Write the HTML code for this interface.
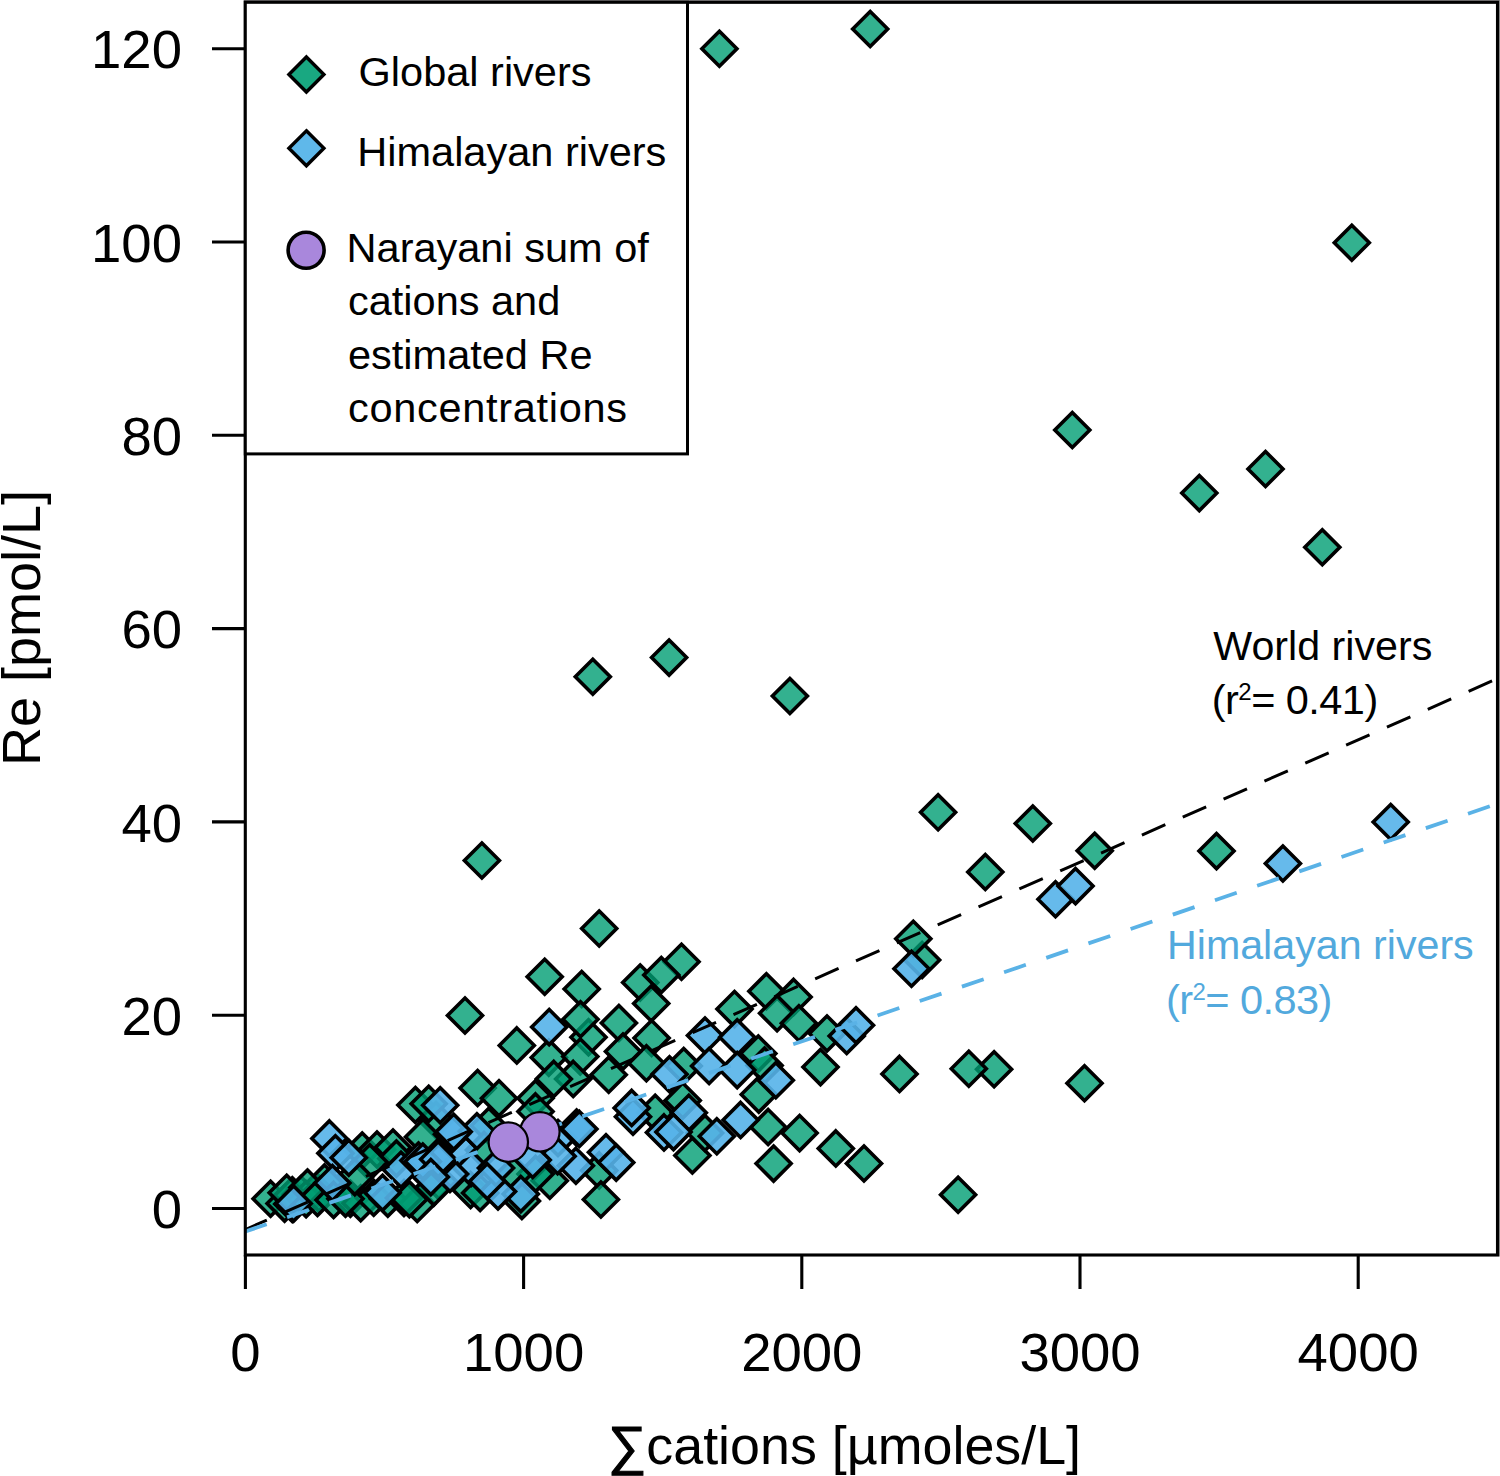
<!DOCTYPE html>
<html lang="en">
<head>
<meta charset="utf-8">
<title>Re vs sum of cations</title>
<style>
html,body{margin:0;padding:0;background:#fff;}
body{width:1500px;height:1476px;overflow:hidden;}
svg{display:block;}
text{font-family:"Liberation Sans",sans-serif;fill:#000;}
.ax{font-size:54.5px;}
.lg{font-size:41.5px;}
.g{fill:#009E73;fill-opacity:.8;stroke:#000;stroke-width:3.6;stroke-linejoin:miter;}
.b{fill:#55B2E9;fill-opacity:.9;stroke:#000;stroke-width:3.6;stroke-linejoin:miter;}
.p{fill:#A987DC;stroke:#000;stroke-width:2.2;}
.fr{fill:none;stroke:#000;stroke-width:3.1;}
</style>
</head>
<body>
<svg width="1500" height="1476" viewBox="0 0 1500 1476">
<rect width="1500" height="1476" fill="#fff"/>

<g id="global">
<path class="g" d="M719.4 31.2L736.9 48.7L719.4 66.2L701.9 48.7Z"/>
<path class="g" d="M870.2 11.5L887.7 29.0L870.2 46.5L852.7 29.0Z"/>
<path class="g" d="M1351.8 225.2L1369.3 242.7L1351.8 260.2L1334.3 242.7Z"/>
<path class="g" d="M1072.3 412.5L1089.8 430.0L1072.3 447.5L1054.8 430.0Z"/>
<path class="g" d="M1199.3 475.6L1216.8 493.1L1199.3 510.6L1181.8 493.1Z"/>
<path class="g" d="M1265.5 451.5L1283.0 469.0L1265.5 486.5L1248.0 469.0Z"/>
<path class="g" d="M1322.3 529.7L1339.8 547.2L1322.3 564.7L1304.8 547.2Z"/>
<path class="g" d="M592.8 659.3L610.3 676.8L592.8 694.3L575.3 676.8Z"/>
<path class="g" d="M669.1 640.1L686.6 657.6L669.1 675.1L651.6 657.6Z"/>
<path class="g" d="M789.9 678.5L807.4 696.0L789.9 713.5L772.4 696.0Z"/>
<path class="g" d="M481.9 843.0L499.4 860.5L481.9 878.0L464.4 860.5Z"/>
<path class="g" d="M938.1 794.8L955.6 812.3L938.1 829.8L920.6 812.3Z"/>
<path class="g" d="M1032.8 806.0L1050.3 823.5L1032.8 841.0L1015.3 823.5Z"/>
<path class="g" d="M985.3 854.5L1002.8 872.0L985.3 889.5L967.8 872.0Z"/>
<path class="g" d="M1094.7 833.2L1112.2 850.7L1094.7 868.2L1077.2 850.7Z"/>
<path class="g" d="M1216.5 833.6L1234.0 851.1L1216.5 868.6L1199.0 851.1Z"/>
<path class="g" d="M922.1 942.5L939.6 960.0L922.1 977.5L904.6 960.0Z"/>
<path class="g" d="M913.3 921.2L930.8 938.7L913.3 956.2L895.8 938.7Z"/>
<path class="g" d="M899.5 1056.4L917.0 1073.9L899.5 1091.4L882.0 1073.9Z"/>
<path class="g" d="M994.1 1051.8L1011.6 1069.3L994.1 1086.8L976.6 1069.3Z"/>
<path class="g" d="M968.8 1051.3L986.3 1068.8L968.8 1086.3L951.3 1068.8Z"/>
<path class="g" d="M1084.5 1065.7L1102.0 1083.2L1084.5 1100.7L1067.0 1083.2Z"/>
<path class="g" d="M864.0 1146.0L881.5 1163.5L864.0 1181.0L846.5 1163.5Z"/>
<path class="g" d="M958.1 1177.2L975.6 1194.7L958.1 1212.2L940.6 1194.7Z"/>
<path class="g" d="M681.5 944.3L699.0 961.8L681.5 979.3L664.0 961.8Z"/>
<path class="g" d="M640.2 965.0L657.7 982.5L640.2 1000.0L622.7 982.5Z"/>
<path class="g" d="M661.3 957.5L678.8 975.0L661.3 992.5L643.8 975.0Z"/>
<path class="g" d="M651.2 986.0L668.7 1003.5L651.2 1021.0L633.7 1003.5Z"/>
<path class="g" d="M651.6 1020.5L669.1 1038.0L651.6 1055.5L634.1 1038.0Z"/>
<path class="g" d="M734.5 991.6L752.0 1009.1L734.5 1026.6L717.0 1009.1Z"/>
<path class="g" d="M766.4 973.7L783.9 991.2L766.4 1008.7L748.9 991.2Z"/>
<path class="g" d="M793.6 979.4L811.1 996.9L793.6 1014.4L776.1 996.9Z"/>
<path class="g" d="M777.1 995.7L794.6 1013.2L777.1 1030.7L759.6 1013.2Z"/>
<path class="g" d="M798.9 1005.7L816.4 1023.2L798.9 1040.7L781.4 1023.2Z"/>
<path class="g" d="M827.0 1016.0L844.5 1033.5L827.0 1051.0L809.5 1033.5Z"/>
<path class="g" d="M820.5 1049.6L838.0 1067.1L820.5 1084.6L803.0 1067.1Z"/>
<path class="g" d="M758.3 1036.1L775.8 1053.6L758.3 1071.1L740.8 1053.6Z"/>
<path class="g" d="M764.6 1048.0L782.1 1065.5L764.6 1083.0L747.1 1065.5Z"/>
<path class="g" d="M758.8 1077.1L776.3 1094.6L758.8 1112.1L741.3 1094.6Z"/>
<path class="g" d="M768.1 1109.5L785.6 1127.0L768.1 1144.5L750.6 1127.0Z"/>
<path class="g" d="M799.6 1115.6L817.1 1133.1L799.6 1150.6L782.1 1133.1Z"/>
<path class="g" d="M835.8 1130.9L853.3 1148.4L835.8 1165.9L818.3 1148.4Z"/>
<path class="g" d="M773.6 1146.1L791.1 1163.6L773.6 1181.1L756.1 1163.6Z"/>
<path class="g" d="M692.4 1138.0L709.9 1155.5L692.4 1173.0L674.9 1155.5Z"/>
<path class="g" d="M682.7 1083.1L700.2 1100.6L682.7 1118.1L665.2 1100.6Z"/>
<path class="g" d="M683.7 1048.5L701.2 1066.0L683.7 1083.5L666.2 1066.0Z"/>
<path class="g" d="M655.2 1095.3L672.7 1112.8L655.2 1130.3L637.7 1112.8Z"/>
<path class="g" d="M646.4 1045.7L663.9 1063.2L646.4 1080.7L628.9 1063.2Z"/>
<path class="g" d="M705.0 1115.5L722.5 1133.0L705.0 1150.5L687.5 1133.0Z"/>
<path class="g" d="M599.2 911.0L616.7 928.5L599.2 946.0L581.7 928.5Z"/>
<path class="g" d="M544.7 959.3L562.2 976.8L544.7 994.3L527.2 976.8Z"/>
<path class="g" d="M581.7 971.5L599.2 989.0L581.7 1006.5L564.2 989.0Z"/>
<path class="g" d="M465.0 998.0L482.5 1015.5L465.0 1033.0L447.5 1015.5Z"/>
<path class="g" d="M618.9 1005.5L636.4 1023.0L618.9 1040.5L601.4 1023.0Z"/>
<path class="g" d="M588.5 1019.7L606.0 1037.2L588.5 1054.7L571.0 1037.2Z"/>
<path class="g" d="M580.5 1001.8L598.0 1019.3L580.5 1036.8L563.0 1019.3Z"/>
<path class="g" d="M516.8 1027.9L534.3 1045.4L516.8 1062.9L499.3 1045.4Z"/>
<path class="g" d="M548.8 1040.1L566.3 1057.6L548.8 1075.1L531.3 1057.6Z"/>
<path class="g" d="M580.3 1039.0L597.8 1056.5L580.3 1074.0L562.8 1056.5Z"/>
<path class="g" d="M623.0 1034.0L640.5 1051.5L623.0 1069.0L605.5 1051.5Z"/>
<path class="g" d="M608.7 1057.3L626.2 1074.8L608.7 1092.3L591.2 1074.8Z"/>
<path class="g" d="M573.2 1061.4L590.7 1078.9L573.2 1096.4L555.7 1078.9Z"/>
<path class="g" d="M553.8 1061.4L571.3 1078.9L553.8 1096.4L536.3 1078.9Z"/>
<path class="g" d="M477.6 1070.5L495.1 1088.0L477.6 1105.5L460.1 1088.0Z"/>
<path class="g" d="M499.0 1080.7L516.5 1098.2L499.0 1115.7L481.5 1098.2Z"/>
<path class="g" d="M535.5 1080.7L553.0 1098.2L535.5 1115.7L518.0 1098.2Z"/>
<path class="g" d="M535.5 1093.9L553.0 1111.4L535.5 1128.9L518.0 1111.4Z"/>
<path class="g" d="M599.2 1152.9L616.7 1170.4L599.2 1187.9L581.7 1170.4Z"/>
<path class="g" d="M600.9 1182.0L618.4 1199.5L600.9 1217.0L583.4 1199.5Z"/>
<path class="g" d="M549.8 1163.3L567.3 1180.8L549.8 1198.3L532.3 1180.8Z"/>
<path class="g" d="M535.6 1156.4L553.1 1173.9L535.6 1191.4L518.1 1173.9Z"/>
<path class="g" d="M521.9 1183.5L539.4 1201.0L521.9 1218.5L504.4 1201.0Z"/>
<path class="g" d="M470.6 1172.5L488.1 1190.0L470.6 1207.5L453.1 1190.0Z"/>
<path class="g" d="M480.1 1175.4L497.6 1192.9L480.1 1210.4L462.6 1192.9Z"/>
<path class="g" d="M438.8 1163.7L456.3 1181.2L438.8 1198.7L421.3 1181.2Z"/>
<path class="g" d="M488.8 1108.2L506.3 1125.7L488.8 1143.2L471.3 1125.7Z"/>
<path class="g" d="M436.0 1102.5L453.5 1120.0L436.0 1137.5L418.5 1120.0Z"/>
<path class="g" d="M484.0 1132.5L501.5 1150.0L484.0 1167.5L466.5 1150.0Z"/>
<path class="g" d="M514.0 1156.5L531.5 1174.0L514.0 1191.5L496.5 1174.0Z"/>
<path class="g" d="M270.6 1181.2L288.1 1198.7L270.6 1216.2L253.1 1198.7Z"/>
<path class="g" d="M284.6 1186.1L302.1 1203.6L284.6 1221.1L267.1 1203.6Z"/>
<path class="g" d="M292.3 1186.5L309.8 1204.0L292.3 1221.5L274.8 1204.0Z"/>
<path class="g" d="M292.3 1177.7L309.8 1195.2L292.3 1212.7L274.8 1195.2Z"/>
<path class="g" d="M300.9 1176.7L318.4 1194.2L300.9 1211.7L283.4 1194.2Z"/>
<path class="g" d="M306.1 1181.8L323.6 1199.3L306.1 1216.8L288.6 1199.3Z"/>
<path class="g" d="M318.9 1176.1L336.4 1193.6L318.9 1211.1L301.4 1193.6Z"/>
<path class="g" d="M324.6 1164.9L342.1 1182.4L324.6 1199.9L307.1 1182.4Z"/>
<path class="g" d="M286.7 1175.3L304.2 1192.8L286.7 1210.3L269.2 1192.8Z"/>
<path class="g" d="M307.5 1170.1L325.0 1187.6L307.5 1205.1L290.0 1187.6Z"/>
<path class="g" d="M317.5 1180.5L335.0 1198.0L317.5 1215.5L300.0 1198.0Z"/>
<path class="g" d="M333.6 1182.4L351.1 1199.9L333.6 1217.4L316.1 1199.9Z"/>
<path class="g" d="M350.4 1181.3L367.9 1198.8L350.4 1216.3L332.9 1198.8Z"/>
<path class="g" d="M360.7 1185.7L378.2 1203.2L360.7 1220.7L343.2 1203.2Z"/>
<path class="g" d="M373.7 1180.3L391.2 1197.8L373.7 1215.3L356.2 1197.8Z"/>
<path class="g" d="M387.8 1181.3L405.3 1198.8L387.8 1216.3L370.3 1198.8Z"/>
<path class="g" d="M417.2 1186.5L434.7 1204.0L417.2 1221.5L399.7 1204.0Z"/>
<path class="g" d="M404.0 1180.5L421.5 1198.0L404.0 1215.5L386.5 1198.0Z"/>
<path class="g" d="M433.8 1170.1L451.3 1187.6L433.8 1205.1L416.3 1187.6Z"/>
<path class="g" d="M362.2 1133.0L379.7 1150.5L362.2 1168.0L344.7 1150.5Z"/>
<path class="g" d="M377.0 1132.0L394.5 1149.5L377.0 1167.0L359.5 1149.5Z"/>
<path class="g" d="M393.0 1130.0L410.5 1147.5L393.0 1165.0L375.5 1147.5Z"/>
<path class="g" d="M396.4 1141.1L413.9 1158.6L396.4 1176.1L378.9 1158.6Z"/>
<path class="g" d="M409.4 1181.8L426.9 1199.3L409.4 1216.8L391.9 1199.3Z"/>
<path class="g" d="M345.5 1181.3L363.0 1198.8L345.5 1216.3L328.0 1198.8Z"/>
<path class="g" d="M369.7 1144.7L387.2 1162.2L369.7 1179.7L352.2 1162.2Z"/>
<path class="g" d="M423.0 1119.5L440.5 1137.0L423.0 1154.5L405.5 1137.0Z"/>
<path class="g" d="M415.4 1087.5L432.9 1105.0L415.4 1122.5L397.9 1105.0Z"/>
<path class="g" d="M428.7 1086.3L446.2 1103.8L428.7 1121.3L411.2 1103.8Z"/>
<path class="g" d="M354.8 1159.6L372.3 1177.1L354.8 1194.6L337.3 1177.1Z"/>
</g>
<g id="himalaya">
<path class="b" d="M1055.5 881.7L1073.0 899.2L1055.5 916.7L1038.0 899.2Z"/>
<path class="b" d="M1075.5 868.6L1093.0 886.1L1075.5 903.6L1058.0 886.1Z"/>
<path class="b" d="M911.5 951.3L929.0 968.8L911.5 986.3L894.0 968.8Z"/>
<path class="b" d="M846.7 1018.5L864.2 1036.0L846.7 1053.5L829.2 1036.0Z"/>
<path class="b" d="M856.0 1007.8L873.5 1025.3L856.0 1042.8L838.5 1025.3Z"/>
<path class="b" d="M1282.9 846.0L1300.4 863.5L1282.9 881.0L1265.4 863.5Z"/>
<path class="b" d="M1390.7 804.5L1408.2 822.0L1390.7 839.5L1373.2 822.0Z"/>
<path class="b" d="M705.0 1018.0L722.5 1035.5L705.0 1053.0L687.5 1035.5Z"/>
<path class="b" d="M737.2 1019.7L754.7 1037.2L737.2 1054.7L719.7 1037.2Z"/>
<path class="b" d="M709.1 1048.5L726.6 1066.0L709.1 1083.5L691.6 1066.0Z"/>
<path class="b" d="M737.2 1052.6L754.7 1070.1L737.2 1087.6L719.7 1070.1Z"/>
<path class="b" d="M669.5 1056.7L687.0 1074.2L669.5 1091.7L652.0 1074.2Z"/>
<path class="b" d="M775.8 1062.8L793.3 1080.3L775.8 1097.8L758.3 1080.3Z"/>
<path class="b" d="M688.8 1095.3L706.3 1112.8L688.8 1130.3L671.3 1112.8Z"/>
<path class="b" d="M740.6 1102.4L758.1 1119.9L740.6 1137.4L723.1 1119.9Z"/>
<path class="b" d="M664.0 1114.9L681.5 1132.4L664.0 1149.9L646.5 1132.4Z"/>
<path class="b" d="M673.5 1114.6L691.0 1132.1L673.5 1149.6L656.0 1132.1Z"/>
<path class="b" d="M716.8 1118.7L734.3 1136.2L716.8 1153.7L699.3 1136.2Z"/>
<path class="b" d="M633.0 1099.2L650.5 1116.7L633.0 1134.2L615.5 1116.7Z"/>
<path class="b" d="M631.7 1090.4L649.2 1107.9L631.7 1125.4L614.2 1107.9Z"/>
<path class="b" d="M549.2 1009.6L566.7 1027.1L549.2 1044.6L531.7 1027.1Z"/>
<path class="b" d="M558.0 1120.5L575.5 1138.0L558.0 1155.5L540.5 1138.0Z"/>
<path class="b" d="M576.6 1110.1L594.1 1127.6L576.6 1145.1L559.1 1127.6Z"/>
<path class="b" d="M579.4 1111.4L596.9 1128.9L579.4 1146.4L561.9 1128.9Z"/>
<path class="b" d="M606.0 1134.8L623.5 1152.3L606.0 1169.8L588.5 1152.3Z"/>
<path class="b" d="M616.2 1145.1L633.7 1162.6L616.2 1180.1L598.7 1162.6Z"/>
<path class="b" d="M575.9 1148.3L593.4 1165.8L575.9 1183.3L558.4 1165.8Z"/>
<path class="b" d="M557.6 1138.8L575.1 1156.3L557.6 1173.8L540.1 1156.3Z"/>
<path class="b" d="M532.7 1142.5L550.2 1160.0L532.7 1177.5L515.2 1160.0Z"/>
<path class="b" d="M520.8 1176.6L538.3 1194.1L520.8 1211.6L503.3 1194.1Z"/>
<path class="b" d="M498.0 1174.0L515.5 1191.5L498.0 1209.0L480.5 1191.5Z"/>
<path class="b" d="M471.1 1150.5L488.6 1168.0L471.1 1185.5L453.6 1168.0Z"/>
<path class="b" d="M459.0 1130.5L476.5 1148.0L459.0 1165.5L441.5 1148.0Z"/>
<path class="b" d="M452.0 1116.8L469.5 1134.3L452.0 1151.8L434.5 1134.3Z"/>
<path class="b" d="M476.9 1113.8L494.4 1131.3L476.9 1148.8L459.4 1131.3Z"/>
<path class="b" d="M450.0 1156.5L467.5 1174.0L450.0 1191.5L432.5 1174.0Z"/>
<path class="b" d="M438.8 1144.6L456.3 1162.1L438.8 1179.6L421.3 1162.1Z"/>
<path class="b" d="M496.0 1150.5L513.5 1168.0L496.0 1185.5L478.5 1168.0Z"/>
<path class="b" d="M487.2 1163.7L504.7 1181.2L487.2 1198.7L469.7 1181.2Z"/>
<path class="b" d="M329.4 1120.9L346.9 1138.4L329.4 1155.9L311.9 1138.4Z"/>
<path class="b" d="M335.4 1135.8L352.9 1153.3L335.4 1170.8L317.9 1153.3Z"/>
<path class="b" d="M348.8 1140.3L366.3 1157.8L348.8 1175.3L331.3 1157.8Z"/>
<path class="b" d="M440.2 1087.7L457.7 1105.2L440.2 1122.7L422.7 1105.2Z"/>
<path class="b" d="M453.7 1114.3L471.2 1131.8L453.7 1149.3L436.2 1131.8Z"/>
<path class="b" d="M293.6 1186.1L311.1 1203.6L293.6 1221.1L276.1 1203.6Z"/>
<path class="b" d="M332.4 1165.6L349.9 1183.1L332.4 1200.6L314.9 1183.1Z"/>
<path class="b" d="M382.6 1175.3L400.1 1192.8L382.6 1210.3L365.1 1192.8Z"/>
<path class="b" d="M401.0 1152.2L418.5 1169.7L401.0 1187.2L383.5 1169.7Z"/>
<path class="b" d="M418.5 1143.0L436.0 1160.5L418.5 1178.0L401.0 1160.5Z"/>
<path class="b" d="M422.8 1144.1L440.3 1161.6L422.8 1179.1L405.3 1161.6Z"/>
<path class="b" d="M438.2 1141.7L455.7 1159.2L438.2 1176.7L420.7 1159.2Z"/>
<path class="b" d="M430.8 1159.6L448.3 1177.1L430.8 1194.6L413.3 1177.1Z"/>
</g>
<line x1="245.4" y1="1229.5" x2="1497" y2="678.8" stroke="#000" stroke-width="3" stroke-dasharray="25.6 19.02" stroke-dashoffset="2.2"/>
<line x1="245.4" y1="1231.5" x2="1497" y2="803.8" stroke="#5AB2E6" stroke-width="3.8" stroke-dasharray="23 21.57" stroke-dashoffset="0.5"/>
<circle class="p" cx="539.9" cy="1131.8" r="19.7"/>
<circle class="p" cx="508.3" cy="1142.1" r="19.7"/>
<rect x="243.7" y="0" width="1256.3" height="1.1" fill="#8f8c8e"/>
<rect x="1499" y="0" width="1" height="1256.5" fill="#8c8c8c"/>
<rect class="fr" x="245.3" y="2.3" width="1252.2" height="1252.7"/>
<line class="fr" x1="245.4" y1="1255.0" x2="245.4" y2="1289"/>
<text class="ax" x="245.4" y="1371" text-anchor="middle">0</text>
<line class="fr" x1="523.6" y1="1255.0" x2="523.6" y2="1289"/>
<text class="ax" x="523.6" y="1371" text-anchor="middle">1000</text>
<line class="fr" x1="801.8" y1="1255.0" x2="801.8" y2="1289"/>
<text class="ax" x="801.8" y="1371" text-anchor="middle">2000</text>
<line class="fr" x1="1080.0" y1="1255.0" x2="1080.0" y2="1289"/>
<text class="ax" x="1080.0" y="1371" text-anchor="middle">3000</text>
<line class="fr" x1="1358.2" y1="1255.0" x2="1358.2" y2="1289"/>
<text class="ax" x="1358.2" y="1371" text-anchor="middle">4000</text>
<line class="fr" x1="212" y1="1208.5" x2="245.3" y2="1208.5"/>
<text class="ax" x="182" y="1228.1" text-anchor="end">0</text>
<line class="fr" x1="212" y1="1015.2" x2="245.3" y2="1015.2"/>
<text class="ax" x="182" y="1034.8" text-anchor="end">20</text>
<line class="fr" x1="212" y1="821.9" x2="245.3" y2="821.9"/>
<text class="ax" x="182" y="841.5" text-anchor="end">40</text>
<line class="fr" x1="212" y1="628.6" x2="245.3" y2="628.6"/>
<text class="ax" x="182" y="648.2" text-anchor="end">60</text>
<line class="fr" x1="212" y1="435.3" x2="245.3" y2="435.3"/>
<text class="ax" x="182" y="454.9" text-anchor="end">80</text>
<line class="fr" x1="212" y1="242.0" x2="245.3" y2="242.0"/>
<text class="ax" x="182" y="261.6" text-anchor="end">100</text>
<line class="fr" x1="212" y1="48.7" x2="245.3" y2="48.7"/>
<text class="ax" x="182" y="68.3" text-anchor="end">120</text>
<text class="ax" transform="translate(39.7 766) rotate(-90)" style="font-size:54px">Re [pmol/L]</text>
<text class="ax" x="608" y="1464.3" style="font-size:53.8px"><tspan stroke="#000" stroke-width="1.1">∑</tspan>cations [µmoles/L]</text>
<rect x="245.3" y="2.3" width="442.2" height="451.6" fill="#fff" stroke="#000" stroke-width="3"/>
<path fill="#009E73" fill-opacity=".9" stroke="#000" stroke-width="3.4" d="M306.4 57.0L323.9 74.5L306.4 92.0L288.9 74.5Z"/>
<path fill="#56B4E9" fill-opacity=".95" stroke="#000" stroke-width="3.4" d="M306.4 130.8L323.9 148.3L306.4 165.8L288.9 148.3Z"/>
<circle cx="306.1" cy="250.2" r="18" fill="#A987DC" stroke="#000" stroke-width="3.6"/>
<text class="lg" x="358.6" y="85.8">Global rivers</text>
<text class="lg" x="357.3" y="165.6">Himalayan rivers</text>
<text class="lg" x="346.6" y="262.3">Narayani sum of</text>
<text class="lg" x="348" y="315.2">cations and</text>
<text class="lg" x="348" y="368.6">estimated Re</text>
<text class="lg" x="348" y="421.7" textLength="279" lengthAdjust="spacing">concentrations</text>
<text class="lg" x="1213.3" y="660" style="font-size:41.2px">World rivers</text>
<text class="lg" x="1211.8" y="713.6" style="letter-spacing:-0.55px">(r<tspan font-size="24" dy="-14">2</tspan><tspan dy="14">= 0.41)</tspan></text>
<text class="lg" x="1167" y="958.7" style="fill:#52A9DD;font-size:41.2px">Himalayan rivers</text>
<text class="lg" x="1166" y="1013.5" style="fill:#52A9DD;letter-spacing:-0.55px">(r<tspan font-size="24" dy="-14">2</tspan><tspan dy="14">= 0.83)</tspan></text>
</svg>
</body>
</html>
